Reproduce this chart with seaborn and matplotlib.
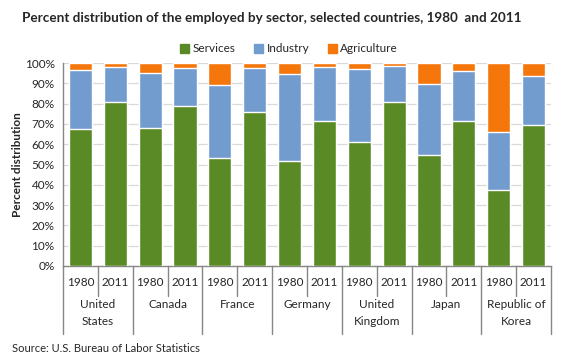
import matplotlib
matplotlib.use("Agg")
import matplotlib.pyplot as plt
import matplotlib.transforms as mtransforms
from matplotlib.patches import Patch
import pandas as pd
import seaborn as sns

countries = ["United\nStates", "Canada", "France", "Germany",
             "United\nKingdom", "Japan", "Republic of\nKorea"]
years = ["1980", "2011"]
services = [67.5, 81.0, 68.0, 79.0, 53.1, 75.8, 51.6, 71.4, 61.0, 80.8, 54.8, 71.4, 37.3, 69.6]
industry = [29.0, 17.2, 27.3, 18.5, 36.2, 21.6, 43.0, 26.8, 36.2, 17.7, 34.8, 24.8, 28.7, 24.0]
agriculture = [3.5, 1.8, 4.7, 2.5, 10.7, 2.6, 5.4, 1.8, 2.8, 1.5, 10.4, 3.8, 34.0, 6.4]

c_serv = "#5A8A26"
c_ind = "#739CCE"
c_agr = "#F5760B"

rows = []
for i, c in enumerate(countries):
    for j, y in enumerate(years):
        k = i * 2 + j
        rows.append({"key": f"{c}|{y}", "country": c, "year": y,
                     "Services": services[k], "Industry": industry[k],
                     "Agriculture": agriculture[k]})
df = pd.DataFrame(rows)
df["lvl2"] = df["Services"] + df["Industry"]
df["lvl3"] = df["lvl2"] + df["Agriculture"]
order = list(df["key"])

sns.set_style("white")
plt.rcParams["font.family"] = ["Lato", "DejaVu Sans"]

fig = plt.figure(figsize=(5.8, 3.6), dpi=100)
ax = fig.add_axes([63 / 580, 1 - 266 / 360, 488 / 580, 203 / 360])

ax.yaxis.grid(True, color="#D9D9D9", linewidth=0.9)
ax.set_axisbelow(True)

sns.barplot(data=df, x="key", y="lvl3", order=order, color=c_agr, saturation=1,
            width=0.66, ax=ax, zorder=2)
sns.barplot(data=df, x="key", y="lvl2", order=order, color=c_ind, saturation=1,
            width=0.66, ax=ax, zorder=3)
sns.barplot(data=df, x="key", y="Services", order=order, color=c_serv, saturation=1,
            width=0.66, ax=ax, zorder=4)

ax.set_xlim(-0.5, len(order) - 0.5)
ax.set_ylim(0, 100)
ax.set_yticks(range(0, 101, 10))
ax.set_yticklabels([f"{v}%" for v in range(0, 101, 10)], fontsize=8.5)
ax.set_xticks(range(len(order)))
ax.set_xticklabels([""] * len(order))
ax.tick_params(axis="x", length=3, color="#868686", direction="out")
ax.tick_params(axis="y", length=4, color="#868686", direction="out", pad=2)
ax.set_xlabel("")
ax.set_ylabel("Percent distribution", fontsize=8.5, fontweight="bold")
ax.yaxis.set_label_coords(-(63 - 23) / 488, 0.5)

for s in ["top", "right"]:
    ax.spines[s].set_visible(False)
for s in ["left", "bottom"]:
    ax.spines[s].set_color("#868686")
    ax.spines[s].set_linewidth(1)

trans = mtransforms.blended_transform_factory(ax.transData, ax.transAxes)
px = 1 / 203
for k, yr in enumerate(df["year"]):
    ax.text(k, -17 * px, yr, transform=trans, ha="center", va="center", fontsize=8.5)
for i, c in enumerate(countries):
    ax.text(2 * i + 0.5, -33 * px, c, transform=trans, ha="center", va="top",
            fontsize=8.5, linespacing=1.7)
for b in range(len(order) + 1):
    xb = b - 0.5
    low = -68 * px if b % 2 == 0 else -30 * px
    ax.plot([xb, xb], [0, low], transform=trans, color="#868686", lw=1, clip_on=False)

handles = [Patch(color=c_serv, label="Services"),
           Patch(color=c_ind, label="Industry"),
           Patch(color=c_agr, label="Agriculture")]
fig.legend(handles=handles, loc="center", bbox_to_anchor=(289 / 580, 1 - 49 / 360),
           ncol=3, frameon=False, fontsize=8.5, handlelength=0.75, handleheight=0.75,
           handletextpad=0.3, columnspacing=1.6)

fig.text(272 / 580, 1 - 18 / 360,
         "Percent distribution of the employed by sector, selected countries, 1980  and 2011",
         ha="center", va="center", fontsize=9.7, fontweight="bold")
fig.text(12 / 580, 1 - 349 / 360, "Source: U.S. Bureau of Labor Statistics",
         ha="left", va="center", fontsize=8)

fig.savefig("out.png", dpi=100)
